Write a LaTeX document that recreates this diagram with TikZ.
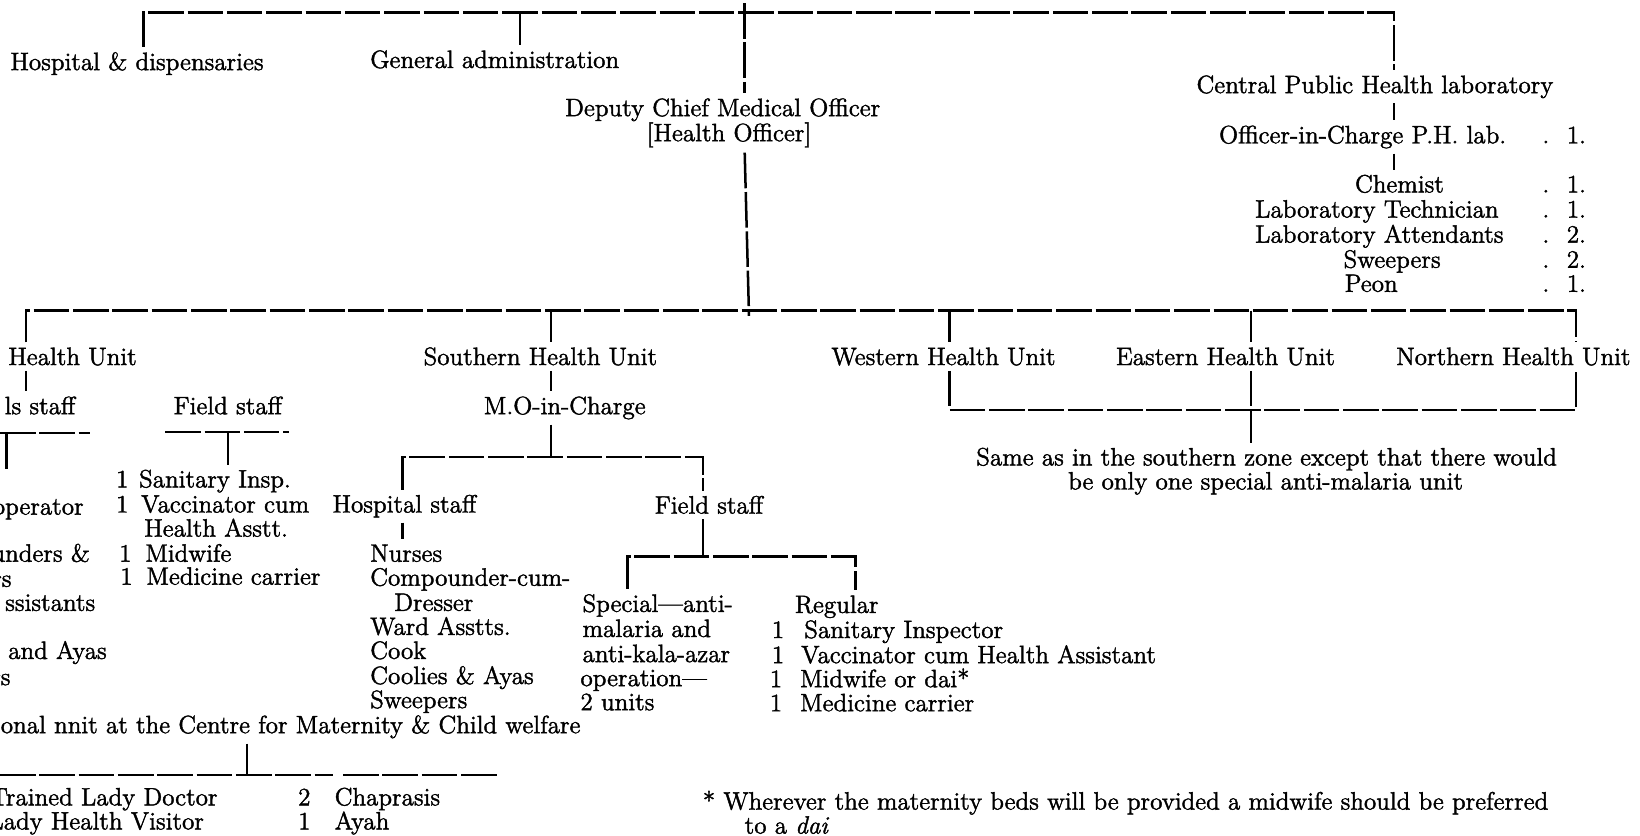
\documentclass[tikz,border=0pt]{standalone}
\usepackage{fontspec}
\setmainfont{Latin Modern Roman}[FakeBold=1.6]
\begin{document}
\begin{tikzpicture}[x=0.5pt,y=-0.5pt,
  tx/.style={inner sep=0pt, outer xsep=0pt, outer ysep=2.5pt, font=\fontsize{12}{14}\selectfont},
  link/.style={line width=1.2pt, dash pattern=on 17pt off 1.8pt}]
\useasboundingbox (0,0) rectangle (1568,799);
\clip (0,0) rectangle (1568,799);
% ---------- top level ----------
\node[tx,anchor=base west] (hosp) at (10,67) {Hospital \& dispensaries};
\node[tx,anchor=base west] (genadm) at (354,65) {General administration};
\node[tx,anchor=base] (dcmo) at (691,111) {Deputy Chief Medical Officer};
\node[tx,anchor=base] (dcmob) at (697,135) {[Health Officer]};
\node[tx,anchor=base west] (cphl) at (1144,89) {Central Public Health laboratory};
\node[tx,anchor=base east] (oic) at (1440,137) {Officer-in-Charge P.H. lab.};
\node[tx,anchor=base] (chem) at (1338,184) {Chemist};
\node[tx,anchor=base west] (labt) at (1200,208) {Laboratory Technician};
\node[tx,anchor=base west] (laba) at (1200,232) {Laboratory Attendants};
\node[tx,anchor=base] (swp) at (1331,256) {Sweepers};
\node[tx,anchor=base] (peon) at (1311,279) {Peon};
\foreach \b/\n/\k in {137/1./a,184/1./b,208/1./c,232/2./d,256/2./e,279/1./f}{
  \node[tx,anchor=base] (dot\k) at (1478,\b) {.};
  \node[tx,anchor=base west] (num\k) at (1498,\b) {\n};
}
\coordinate (tl) at (137,12);
\coordinate (tg) at (497,12);
\coordinate (tc) at (712,12);
\coordinate (tcup) at (712,3);
\coordinate (tr) at (1333,12);
\draw[link] (tl |- hosp.north) -- (tl) -- (tr) -- (tr |- cphl.north);
\draw[link] (tg) -- (tg |- genadm.north);
\draw[link] (tcup) -- (tc |- dcmo.north);
\coordinate (mc) at (716,297);
\coordinate (mcdown) at (716,302);
\draw[link] (tc |- dcmob.south) -- (mc) -- (mcdown);
\draw[link] (tr |- cphl.south) -- (tr |- oic.north);
\draw[link] (tr |- oic.south) -- (tr |- chem.north);
% ---------- health units ----------
\node[tx,anchor=base west] (chu) at (8,349) {Health Unit};
\node[tx,anchor=base west] (shu) at (405,349) {Southern Health Unit};
\node[tx,anchor=base west] (whu) at (795,349) {Western Health Unit};
\node[tx,anchor=base west] (ehu) at (1067,349) {Eastern Health Unit};
\node[tx,anchor=base west] (nhu) at (1335,349) {Northern Health Unit};
\coordinate (ml) at (25,297);
\coordinate (ms) at (527,297);
\coordinate (mw) at (908,297);
\coordinate (me) at (1196,297);
\coordinate (mr) at (1507,297);
\draw[link] (ml |- chu.north) -- (ml) -- (mr) -- (mr |- nhu.north);
\draw[link] (ms) -- (ms |- shu.north);
\draw[link] (mw) -- (mw |- whu.north);
\draw[link] (me) -- (me |- ehu.north);
% ---------- left (central) unit ----------
\node[tx,anchor=base east] (chs) at (72,396) {ls staff};
\node[tx,anchor=base west] (cfs) at (166,396) {Field staff};
\draw[link] (ml |- chu.south) -- (ml |- chs.north);
\coordinate (lh1) at (0,414);
\coordinate (lh2) at (86,414);
\coordinate (lht) at (6,414);
\coordinate (lhe) at (6,451);
\draw[link] (lh1) -- (lh2);
\draw[link] (lht) -- (lhe);
\node[tx,anchor=base east] (c1) at (80,492) {operator};
\node[tx,anchor=base east] (c2) at (86,537) {unders \&};
\node[tx,anchor=base east] (c3) at (11,561) {rs};
\node[tx,anchor=base east] (c4) at (91,584) {ssistants};
\node[tx,anchor=base east] (c5) at (102,630) {and Ayas};
\node[tx,anchor=base east] (c6) at (10,655) {rs};
\node[tx,anchor=base west] (f1n) at (111,466) {1};
\node[tx,anchor=base west] (f1) at (133,466) {Sanitary Insp.};
\node[tx,anchor=base west] (f2n) at (111,490) {1};
\node[tx,anchor=base west] (f2) at (135,490) {Vaccinator cum};
\node[tx,anchor=base west] (f2b) at (138,513) {Health Asstt.};
\node[tx,anchor=base west] (f3n) at (114,537) {1};
\node[tx,anchor=base west] (f3) at (139,537) {Midwife};
\node[tx,anchor=base west] (f4n) at (115,559) {1};
\node[tx,anchor=base west] (f4) at (140,559) {Medicine carrier};
\coordinate (lf1) at (158,413);
\coordinate (lf2) at (276,413);
\coordinate (lft) at (218,413);
\draw[link] (lf1) -- (lf2);
\draw[link] (lft) -- (lft |- f1.north);
% ---------- southern unit ----------
\node[tx,anchor=base] (mo) at (540,396) {M.O-in-Charge};
\node[tx,anchor=base west] (hs) at (318,490) {Hospital staff};
\node[tx,anchor=base west] (fs) at (626,491) {Field staff};
\draw[link] (ms |- shu.south) -- (ms |- mo.north);
\coordinate (sb) at (527,437);
\coordinate (sbl) at (385,437);
\coordinate (sbr) at (672,437);
\draw[link] (ms |- mo.south) -- (sb);
\draw[link] (sbl |- hs.north) -- (sbl) -- (sbr) -- (sbr |- fs.north);
\node[tx,anchor=base west] (n1) at (354,537) {Nurses};
\node[tx,anchor=base west] (n2) at (354,560) {Compounder-cum-};
\node[tx,anchor=base west] (n3) at (377,584) {Dresser};
\node[tx,anchor=base west] (n4) at (354,607) {Ward Asstts.};
\node[tx,anchor=base west] (n5) at (354,630) {Cook};
\node[tx,anchor=base west] (n6) at (354,654) {Coolies \& Ayas};
\node[tx,anchor=base west] (n7) at (354,677) {Sweepers};
\draw[link] (sbl |- hs.south) -- (sbl |- n1.north);
\node[tx,anchor=base west] (sp1) at (557,585) {Special---anti-};
\node[tx,anchor=base west] (sp2) at (557,609) {malaria and};
\node[tx,anchor=base west] (sp3) at (557,633) {anti-kala-azar};
\node[tx,anchor=base west] (sp4) at (555,656) {operation---};
\node[tx,anchor=base west] (sp5) at (555,679) {2 units};
\node[tx,anchor=base west] (reg) at (760,586) {Regular};
\node[tx,anchor=base west] (r1n) at (738,610) {1};
\node[tx,anchor=base west] (r1) at (769,610) {Sanitary Inspector};
\node[tx,anchor=base west] (r2n) at (738,634) {1};
\node[tx,anchor=base west] (r2) at (766,634) {Vaccinator cum Health Assistant};
\node[tx,anchor=base west] (r3n) at (736,657) {1};
\node[tx,anchor=base west] (r3) at (765,657) {Midwife or dai*};
\node[tx,anchor=base west] (r4n) at (736,680) {1};
\node[tx,anchor=base west] (r4) at (765,680) {Medicine carrier};
\coordinate (fb) at (672,532);
\coordinate (fbl) at (600,532);
\coordinate (fbr) at (818,532);
\draw[link] (sbr |- fs.south) -- (fb);
\draw[link] (fbl |- sp1.north) -- (fbl) -- (fbr) -- (fbr |- reg.north);
% ---------- other units ----------
\coordinate (eb1) at (908,392);
\coordinate (eb2) at (1196,392);
\coordinate (eb3) at (1507,392);
\node[tx,anchor=base] (same1) at (1211,445) {Same as in the southern zone except that there would};
\node[tx,anchor=base] (same2) at (1210,468) {be only one special anti-malaria unit};
\draw[link] (mw |- whu.south) -- (eb1) -- (eb3) -- (mr |- nhu.south);
\draw[link] (me |- ehu.south) -- (eb2) -- (me |- same1.north);
% ---------- maternity ----------
\node[tx,anchor=base east] (mat) at (555,701) {onal nnit at the Centre for Maternity \& Child welfare};
\coordinate (mb) at (236,741);
\coordinate (mb1) at (0,741);
\coordinate (mb2) at (318,741);
\coordinate (mb3) at (328,741);
\coordinate (mb4) at (475,741);
\draw[link] (mb |- mat.south) -- (mb);
\draw[link] (mb1) -- (mb2);
\draw[link] (mb3) -- (mb4);
\node[tx,anchor=base east] (m1) at (208,770) {Trained Lady Doctor};
\node[tx,anchor=base east] (m2) at (195,793) {Lady Health Visitor};
\node[tx,anchor=base] (m3n) at (291,770) {2};
\node[tx,anchor=base west] (m3) at (320,770) {Chaprasis};
\node[tx,anchor=base] (m4n) at (291,793) {1};
\node[tx,anchor=base west] (m4) at (320,793) {Ayah};
% ---------- footnote ----------
\node[tx,anchor=base west] (fn1) at (672,774) {* Wherever the maternity beds will be provided a midwife should be preferred};
\node[tx,anchor=base west] (fn2) at (712,797) {to a \textit{dai}};
\end{tikzpicture}
\end{document}
